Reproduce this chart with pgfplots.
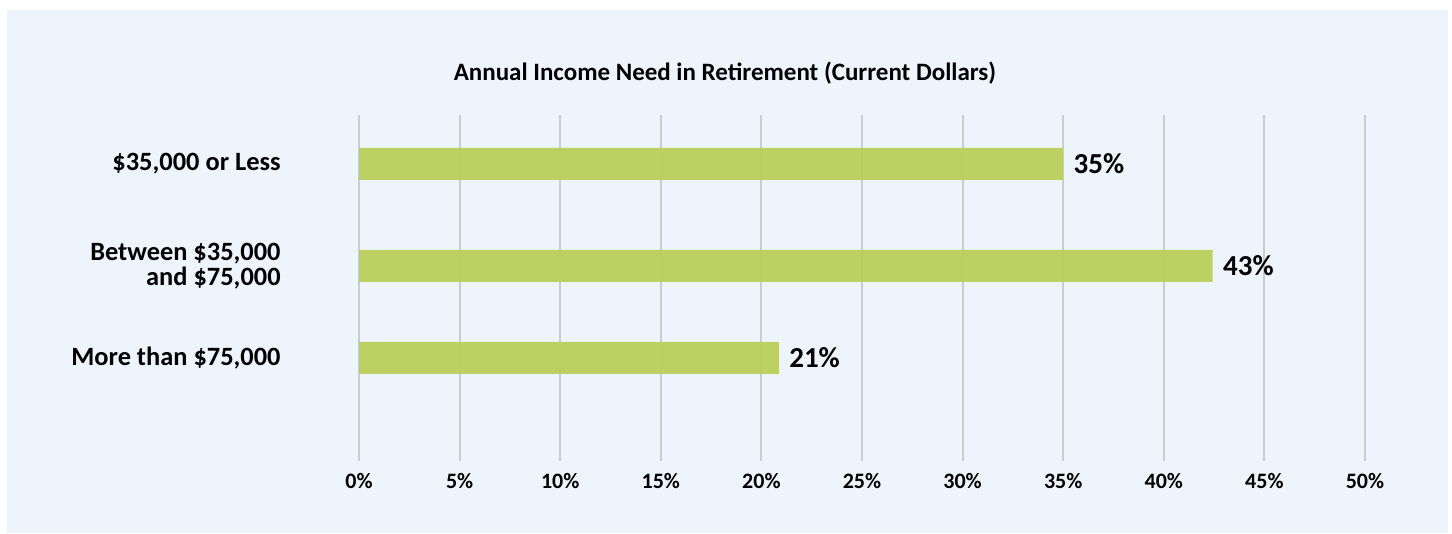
\documentclass[border=0pt]{standalone}
\usepackage{pgfplots}
\pgfplotsset{compat=1.18}
\usepackage{fontspec}
\setmainfont{Carlito}
\definecolor{bgblue}{RGB}{237,244,251}
\definecolor{gridcol}{RGB}{200,205,210}
\definecolor{barcol}{RGB}{185,205,86}
\begin{document}
\begin{tikzpicture}
\fill[white] (0,0) rectangle (726pt,267pt);
\fill[bgblue] (3.5pt,0.5pt) rectangle (724pt,262pt);
\node[font=\fontsize{12.5}{14}\selectfont\bfseries, anchor=base] at (362.5pt,226.5pt) {Annual Income Need in Retirement (Current Dollars)};
\begin{axis}[
  at={(179.5pt,36.5pt)}, anchor=south west,
  width=503pt, height=173pt, scale only axis,
  xmin=0, xmax=50, ymin=0, ymax=346,
  axis line style={draw=none},
  tick style={draw=none},
  xmajorgrids, ymajorgrids=false,
  grid style={color=gridcol, line width=1pt},
  xtick={0,5,...,50},
  xticklabel={\pgfmathprintnumber{\tick}\%},
  /pgf/number format/assume math mode=true,
  xticklabel style={font=\fontsize{11}{13}\selectfont\bfseries, anchor=center, yshift=-10pt},
  ytick={297,195,103},
  yticklabels={{\$35,000 or Less},{Between \$35,000\\and \$75,000},{More than \$75,000}},
  yticklabel style={font=\fontsize{13.2}{12.5}\selectfont\bfseries, align=right, anchor=east, inner sep=0pt, xshift=-39pt},
  clip=false,
]
\addplot[xbar, bar width=32, bar shift=0pt, fill=barcol, fill opacity=0.92, draw=none,
  point meta=explicit symbolic,
  nodes near coords,
  nodes near coords style={anchor=west, inner sep=0pt, xshift=5pt, text opacity=1, fill opacity=1, font=\fontsize{14.5}{16}\selectfont\bfseries}]
  coordinates {(35,297) [35\%] (42.43,195) [43\%] (20.87,103) [21\%]};
\end{axis}
\end{tikzpicture}
\end{document}
